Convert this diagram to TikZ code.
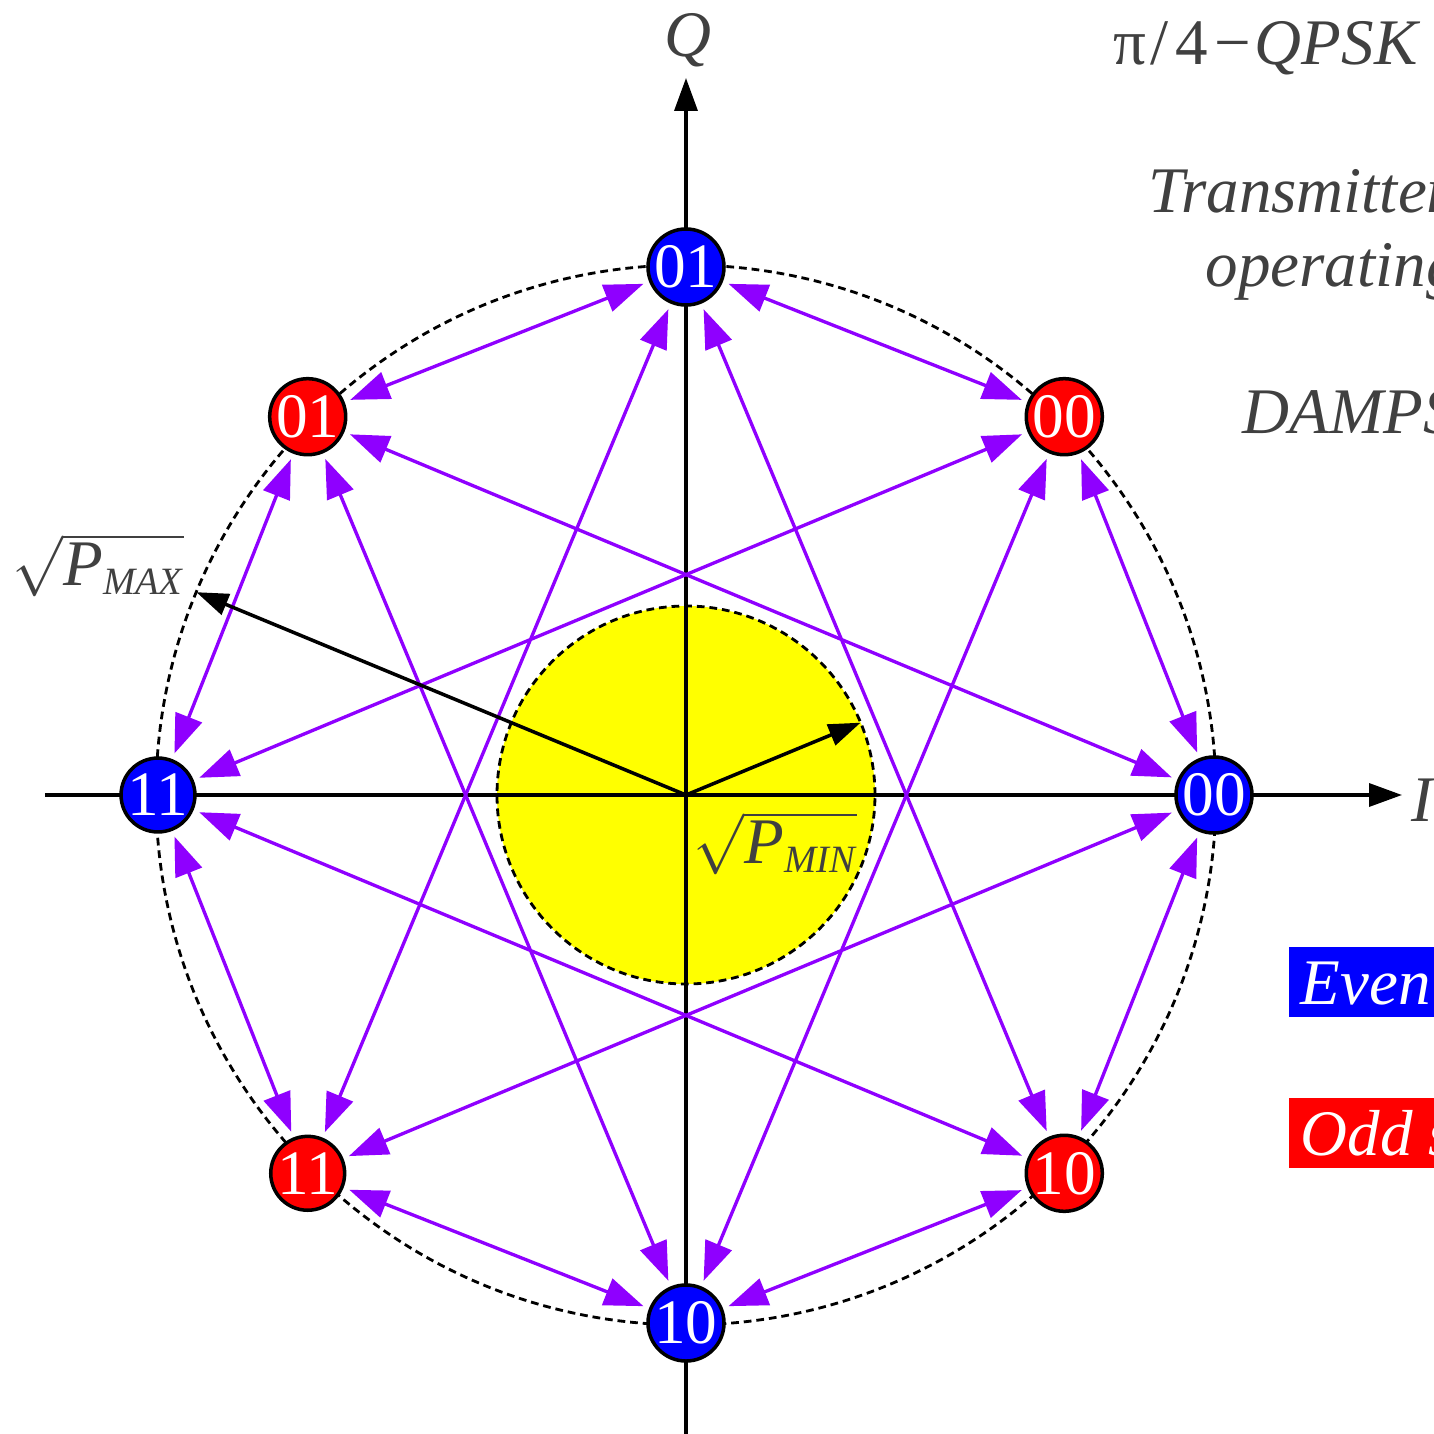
\documentclass[tikz,border=0pt]{standalone}
\usepackage{fontspec}
\setmainfont{Liberation Serif}
\usetikzlibrary{arrows.meta}
\definecolor{symblue}{RGB}{0,0,255}
\definecolor{symred}{RGB}{255,0,0}
\definecolor{trans}{RGB}{143,0,255}
\definecolor{txt}{RGB}{64,64,64}
\definecolor{zone}{RGB}{255,255,0}
\newcommand{\rootlbl}[1]{$\sqrt{\mbox{\itshape P}_{\mbox{\fontsize{11}{11}\selectfont\itshape #1}}}$}
\begin{document}
\begin{tikzpicture}[font=\fontsize{18.5}{22}\selectfont,
  sym/.style={circle,draw=black,line width=1pt,minimum size=0.73cm,inner sep=0pt,text=white,font=\fontsize{18}{20}\selectfont},
  even/.style={sym,fill=symblue},
  odd/.style={sym,fill=symred},
  link/.style={trans,line width=0.95pt,{Triangle[length=3.9mm,width=2.8mm]}-{Triangle[length=3.9mm,width=2.8mm]},shorten <=0.6mm,shorten >=0.6mm},
  axis/.style={line width=1pt,-{Triangle[length=3.3mm,width=2.3mm]}},
  rad/.style={line width=1pt,-{Triangle[length=3.2mm,width=2.2mm]}},
  ring/.style={dash pattern=on 2.2pt off 1.4pt,line width=0.8pt},
  lbl/.style={text=txt},
  tag/.style={anchor=base west,text=white,inner xsep=0.12cm,inner ysep=0pt,text height=0.57cm,text depth=0.13cm}]
\useasboundingbox (-6.86,-6.39) rectangle (7.48,7.95);
\clip (-6.86,-6.39) rectangle (7.48,7.95);
\coordinate (O) at (0,0);
\coordinate (pmax) at (157.5:5.3);
\coordinate (pmin) at (22.5:1.89);
\draw[ring,fill=zone] (O) circle (1.89);
\draw[ring] (O) circle (5.3);
\draw[axis] (-6.41,0) -- (7.16,0);
\draw[axis] (0,-6.5) -- (0,7.17);
\node[lbl] (qlbl) at (0.02,7.55) {\itshape Q};
\node[lbl,anchor=west] (ilbl) at (7.13,-0.05) {\itshape I};
\node[even] (e00) at (0:5.28) {00};
\node[odd] (o00) at (45:5.35) {00};
\node[even] (e01) at (90:5.28) {01};
\node[odd] (o01) at (135:5.35) {01};
\node[even] (e11) at (180:5.28) {11};
\node[odd] (o11) at (225:5.35) {11};
\node[even] (e10) at (270:5.28) {10};
\node[odd] (o10) at (315:5.35) {10};
\draw[link] (e00) -- (o00);
\draw[link] (o00) -- (e01);
\draw[link] (e01) -- (o01);
\draw[link] (o01) -- (e11);
\draw[link] (e11) -- (o11);
\draw[link] (o11) -- (e10);
\draw[link] (e10) -- (o10);
\draw[link] (o10) -- (e00);
\draw[link] (e01) -- (o11);
\draw[link] (e01) -- (o10);
\draw[link] (e00) -- (o01);
\draw[link] (e00) -- (o11);
\draw[link] (e11) -- (o00);
\draw[link] (e11) -- (o10);
\draw[link] (e10) -- (o00);
\draw[link] (e10) -- (o01);
\draw[rad] (O) -- (pmax);
\draw[rad] (O) -- (pmin);
\node[lbl,anchor=base west,inner sep=0pt] (maxlbl) at (-6.74,2.10) {\rootlbl{MAX}};
\node[lbl,anchor=base west,inner sep=0pt] (minlbl) at (0.07,-0.68) {\rootlbl{MIN}};
\node[lbl,anchor=base west,inner sep=0pt] (title) at (4.27,7.30) {π\kern1pt/\kern2pt4\kern2pt−\kern1pt\itshape QPSK};
\node[lbl,anchor=base west,inner sep=0pt] (tx) at (4.62,5.82) {\itshape Transmitter};
\node[lbl,anchor=base west,inner sep=0pt] (op) at (5.19,5.08) {\itshape operating};
\node[lbl,anchor=base west,inner sep=0pt] (damps) at (5.56,3.62) {\itshape DAMPS};
\node[tag,fill=symblue] (evenkey) at (6.02,-2.09) {\itshape Even symbols};
\node[tag,fill=symred] (oddkey) at (6.02,-3.60) {\itshape Odd symbols};
\end{tikzpicture}
\end{document}
